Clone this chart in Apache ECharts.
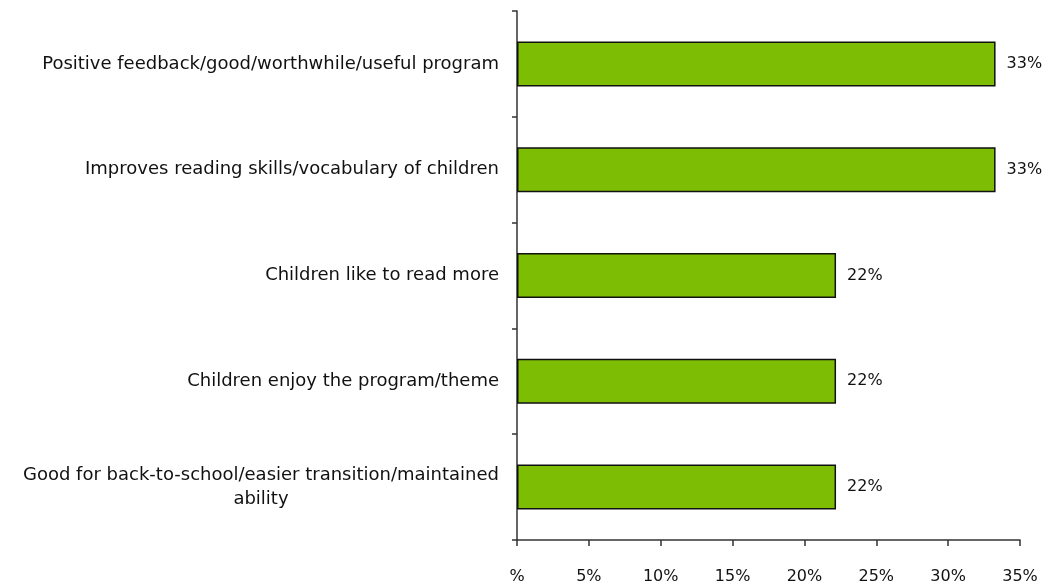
<!DOCTYPE html>
<html>
<head>
<meta charset="utf-8">
<script src="https://cdn.jsdelivr.net/npm/echarts@6/dist/echarts.min.js"></script>
<style>html,body{margin:0;padding:0;background:#fff;}#c{width:1058px;height:586px;}</style>
</head>
<body>
<div id="c"></div>
<script>
var categories = [
  "Positive feedback/good/worthwhile/useful program",
  "Improves reading skills/vocabulary of children",
  "Children like to read more",
  "Children enjoy the program/theme",
  "Good for back-to-school/easier transition/maintained\nability"
];
var values = [33.3, 33.3, 22.2, 22.2, 22.2];
var valueLabels = ["33%", "33%", "22%", "22%", "22%"];
var xTicks = ["%", "5%", "10%", "15%", "20%", "25%", "30%", "35%"];

var chart = echarts.init(document.getElementById('c'));
var font = "'DejaVu Sans', sans-serif";
chart.setOption({
  animation: false,
  grid: { left: 517, right: 38, top: 11, bottom: 46, containLabel: false },
  xAxis: {
    type: 'value', min: 0, max: 35, interval: 5,
    axisLine: { show: true, lineStyle: { color: '#333', width: 1.5 } },
    axisTick: { show: true, length: 6, lineStyle: { color: '#333', width: 1.5 } },
    splitLine: { show: false },
    axisLabel: {
      margin: 29, color: '#111', fontSize: 16, fontFamily: font,
      formatter: function (v) { return xTicks[Math.round(v / 5)]; }
    }
  },
  yAxis: {
    type: 'category', inverse: true, data: categories,
    axisLine: { show: true, lineStyle: { color: '#333', width: 1.5 } },
    axisTick: { show: true, length: 5, inside: false, lineStyle: { color: '#333', width: 1.5 } },
    axisLabel: {
      margin: 18, color: '#111', fontSize: 18, fontFamily: font, lineHeight: 24,
      formatter: function (v) {
        return v.split('\n').map(function (s) { return '{c|' + s + '}'; }).join('\n');
      },
      rich: { c: { align: 'center', fontSize: 18, fontFamily: font, color: '#111', lineHeight: 24 } }
    }
  },
  series: [{
    type: 'bar', data: values, barWidth: 45,
    itemStyle: { color: '#7dbe05', borderColor: '#111', borderWidth: 1.5 },
    label: {
      show: true, position: 'right', distance: 11, color: '#111', fontSize: 16, fontFamily: font,
      formatter: function (p) { return valueLabels[p.dataIndex]; }
    }
  }]
});
</script>
</body>
</html>
